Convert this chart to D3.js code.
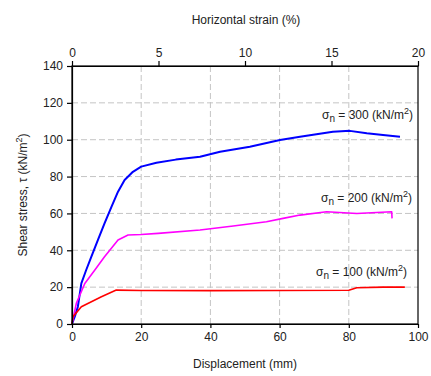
<!DOCTYPE html>
<html>
<head>
<meta charset="utf-8">
<script src="https://cdn.jsdelivr.net/npm/d3@7"></script>
<style>
  body { margin: 0; background: #fff; }
  text { font-family: "Liberation Sans", Arial, sans-serif; fill: #222; }
  .grid line { stroke: #c4c4c4; stroke-dasharray: 6,3; stroke-width: 1; }
  .axis path, .axis line { stroke: #000; stroke-width: 1.2; }
  .axis text { font-size: 12px; }
</style>
</head>
<body>
<svg id="chart"></svg>
<script>
// displacement (mm) / shear stress (kN/m2)
var disp300 = [0, 0.8, 1.7, 2.7, 4.1, 5.6, 7.5, 9.4, 11.4, 13.3, 15.2, 17.6, 20, 24.4, 30, 37, 42.8, 51.4, 60.1, 65.9, 75.4, 80.3, 85.2, 89.9, 94.8];
var tau300  = [0, 4, 9.4, 22, 29.3, 36.5, 45.6, 54.6, 63.6, 71.8, 78.1, 82.6, 85.4, 87.5, 89.2, 90.8, 93.5, 96.2, 99.8, 101.6, 104.3, 104.8, 103.5, 102.5, 101.6];

var disp200 = [0, 1.25, 3.7, 6.6, 9.4, 13.3, 16.2, 20, 24.9, 37, 46.6, 56.2, 61, 65.9, 73.6, 82.3, 92.4, 92.5];
var tau200  = [0, 11.2, 22, 29.3, 36.5, 45.6, 48.3, 48.6, 49.2, 51, 53.2, 55.5, 57.3, 59.1, 60.9, 60, 60.9, 57.3];

var disp100 = [0, 0.3, 2.7, 8.5, 12.8, 20, 40, 60, 80, 82.3, 90, 96.2];
var tau100  = [0, 4, 9.4, 14.8, 18.4, 18.2, 18.1, 18.2, 18.3, 19.7, 20, 20];

var seriesLabels = ["300", "200", "100"];
var seriesColors = ["#0000ff", "#ff00ff", "#ff0000"];

var xTicks = [0, 20, 40, 60, 80, 100];
var yTicks = [0, 20, 40, 60, 80, 100, 120, 140];
var strainTicks = [0, 5, 10, 15, 20];

function drawChart() {
  var width = 431, height = 376;
  var margin = {top: 66, right: 13, bottom: 52, left: 72};

  var svg = d3.select("#chart").attr("width", width).attr("height", height);
  var g = svg.append("g").attr("transform", "translate(" + margin.left + "," + margin.top + ")");
  var w = width - margin.left - margin.right;
  var h = height - margin.top - margin.bottom;

  var xScale = d3.scaleLinear().domain([0, 100]).range([0, w]);
  var xTop = d3.scaleLinear().domain([0, 20]).range([0, w]);
  var yScale = d3.scaleLinear().domain([0, 140]).range([h, 0]);

  // grid
  var grid = g.append("g").attr("class", "grid");
  grid.selectAll(".gx").data(xTicks.slice(1, -1)).enter().append("line")
    .attr("x1", function(d) { return xScale(d); })
    .attr("x2", function(d) { return xScale(d); })
    .attr("y1", 0).attr("y2", h);
  grid.selectAll(".gy").data(yTicks.slice(1, -1)).enter().append("line")
    .attr("x1", 0).attr("x2", w)
    .attr("y1", function(d) { return yScale(d); })
    .attr("y2", function(d) { return yScale(d); });

  // curves
  var sets = [[disp300, tau300], [disp200, tau200], [disp100, tau100]];
  var line = d3.line()
    .x(function(d) { return xScale(d[0]); })
    .y(function(d) { return yScale(d[1]); });
  sets.forEach(function(s, i) {
    var pts = d3.zip(s[0], s[1]);
    g.append("path")
      .datum(pts)
      .attr("fill", "none")
      .attr("stroke", seriesColors[i])
      .attr("stroke-width", i == 0 ? 2 : 1.6)
      .attr("stroke-linejoin", "round")
      .attr("d", line);
  });

  // frame
  g.append("rect").attr("width", w).attr("height", h)
    .attr("fill", "none").attr("stroke", "#000").attr("stroke-width", 1.2);

  // axes
  g.append("g").attr("class", "axis")
    .attr("transform", "translate(0," + h + ")")
    .call(d3.axisBottom(xScale).tickValues(xTicks).tickSize(4).tickPadding(4).tickSizeOuter(0));
  g.append("g").attr("class", "axis")
    .call(d3.axisLeft(yScale).tickValues(yTicks).tickSize(5).tickPadding(4).tickSizeOuter(0));
  g.append("g").attr("class", "axis")
    .call(d3.axisTop(xTop).tickValues(strainTicks).tickSize(5).tickPadding(4).tickSizeOuter(0));

  // axis labels
  svg.append("text").attr("x", margin.left + w / 2).attr("y", 368)
    .attr("text-anchor", "middle").style("font-size", "12px").text("Displacement (mm)");
  svg.append("text").attr("x", margin.left + w / 2 + 1).attr("y", 24)
    .attr("text-anchor", "middle").style("font-size", "12px").text("Horizontal strain (%)");

  var yl = svg.append("text")
    .attr("transform", "translate(27," + (margin.top + h / 2) + ") rotate(-90)")
    .attr("text-anchor", "middle").style("font-size", "12px");
  yl.append("tspan").text("Shear stress, \u03C4 (kN/m");
  yl.append("tspan").attr("dy", -5).style("font-size", "9px").text("2");
  yl.append("tspan").attr("dy", 5).text(")");

  // series labels
  var labelY = [119, 202, 276];
  var labelX = [413, 412, 407];
  seriesLabels.forEach(function(lab, i) {
    var t = g.append("text")
      .attr("x", labelX[i] - margin.left).attr("y", labelY[i] - margin.top)
      .attr("text-anchor", "end").style("font-size", "12px");
    t.append("tspan").text("\u03C3");
    t.append("tspan").attr("dy", 3).style("font-size", "10px").text("n");
    t.append("tspan").attr("dy", -3).text(" = " + lab + " (kN/m");
    t.append("tspan").attr("dy", -5).style("font-size", "9px").text("2");
    t.append("tspan").attr("dy", 5).text(")");
  });
}

drawChart();
</script>
</body>
</html>
